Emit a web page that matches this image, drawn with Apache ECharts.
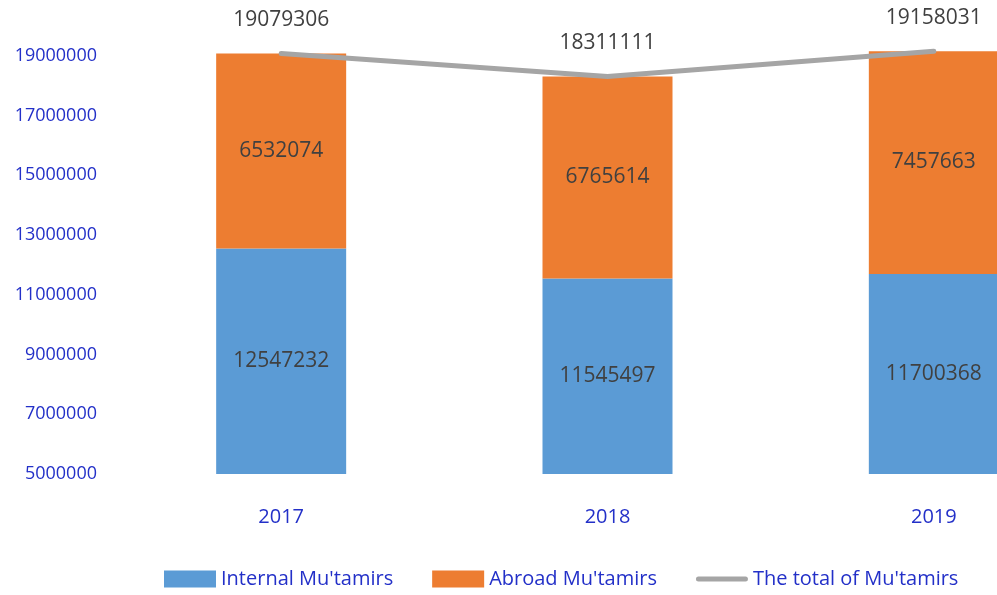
<!DOCTYPE html>
<html>
<head>
<meta charset="utf-8">
<script src="https://cdn.jsdelivr.net/npm/echarts@6/dist/echarts.min.js"></script>
<style>
  html, body { margin: 0; padding: 0; background: #fff; }
  #chart { width: 997px; height: 595px; }
</style>
</head>
<body>
<div id="chart"></div>
<script>
var years = ["2017", "2018", "2019"];
var internalData = [12547232, 11545497, 11700368];
var abroadData = [6532074, 6765614, 7457663];
var totalData = [19079306, 18311111, 19158031];

var textBlue = "#2330c8";
var labelGray = "#404040";
var fontFam = "'Open Sans', 'Noto Sans', sans-serif";

var chart = echarts.init(document.getElementById("chart"));
var option = {
  animation: false,
  textStyle: { fontFamily: fontFam },
  grid: {
    left: 118,
    top: 26,
    width: 979,
    height: 448,
    outerBoundsMode: "none",
    containLabel: false
  },
  legend: {
    bottom: 1,
    left: 159,
    itemWidth: 52,
    itemHeight: 17,
    itemGap: 39,
    textStyle: { color: textBlue, fontSize: 20, fontFamily: fontFam },
    data: [
      { name: "Internal Mu'tamirs", icon: "rect" },
      { name: "Abroad Mu'tamirs", icon: "rect" },
      {
        name: "The total of Mu'tamirs",
        icon: "path://M2.5,0 H49.5 A2.5,2.5 0 0 1 49.5,5 H2.5 A2.5,2.5 0 0 1 2.5,0 Z"
      }
    ]
  },
  xAxis: {
    type: "category",
    data: years,
    axisLine: { show: false },
    axisTick: { show: false },
    axisLabel: { color: textBlue, fontSize: 20, margin: 33, fontFamily: fontFam }
  },
  yAxis: {
    type: "value",
    min: 5000000,
    max: 20000000,
    interval: 2000000,
    splitLine: { show: false },
    axisLine: { show: false },
    axisTick: { show: false },
    axisLabel: {
      color: textBlue,
      fontSize: 18,
      margin: 21,
      showMaxLabel: false,
      fontFamily: fontFam,
      formatter: function (v) { return String(v); }
    }
  },
  series: [
    {
      name: "Internal Mu'tamirs",
      type: "bar",
      stack: "total",
      barWidth: 130,
      data: internalData,
      itemStyle: { color: "#5b9bd5" },
      label: { show: true, position: "inside", color: labelGray, fontSize: 21, fontFamily: fontFam }
    },
    {
      name: "Abroad Mu'tamirs",
      type: "bar",
      stack: "total",
      barWidth: 130,
      data: abroadData,
      itemStyle: { color: "#ed7d31" },
      label: { show: true, position: "inside", color: labelGray, fontSize: 21, fontFamily: fontFam }
    },
    {
      name: "The total of Mu'tamirs",
      type: "line",
      data: totalData,
      symbol: "circle",
      symbolSize: 1,
      showSymbol: true,
      lineStyle: { color: "#a5a5a5", width: 5, cap: "round" },
      itemStyle: { color: "#a5a5a5" },
      label: {
        show: true,
        position: "top",
        distance: 22,
        color: labelGray,
        fontSize: 21,
        fontFamily: fontFam
      },
      z: 5
    }
  ]
};
chart.setOption(option);
</script>
</body>
</html>
